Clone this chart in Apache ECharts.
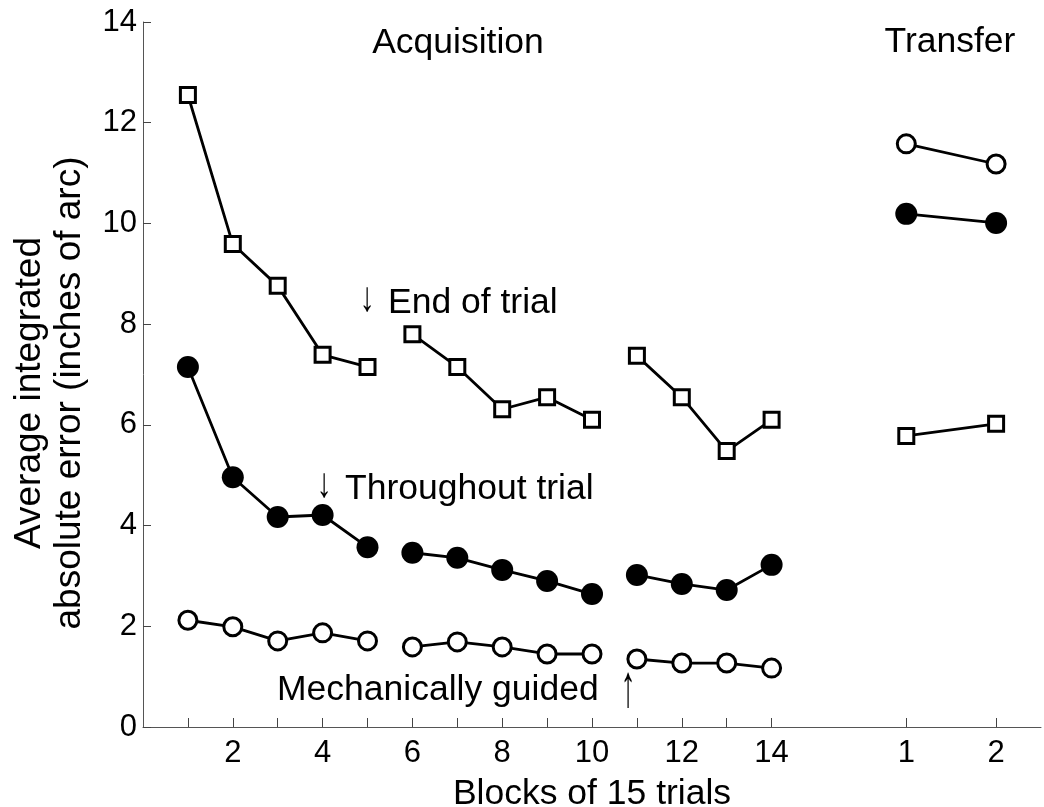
<!DOCTYPE html>
<html>
<head>
<meta charset="utf-8">
<script src="https://cdn.jsdelivr.net/npm/echarts@6/dist/echarts.min.js"></script>
<style>
  html, body { margin: 0; padding: 0; background: #fff; }
  #chart { width: 1044px; height: 807px; }
</style>
</head>
<body>
<div id="chart"></div>
<script>
// Blocks of 15 trials: 14 acquisition blocks in three sessions, then 2 transfer blocks
const acquisitionBlocks = [1, 2, 3, 4, 5, 6, 7, 8, 9, 10, 11, 12, 13, 14];
const sessionLastBlocks = [5, 10];
const transferBlocks = [1, 2];
const acquisitionLabelBlocks = [2, 4, 6, 8, 10, 12, 14];
const yTicks = [0, 2, 4, 6, 8, 10, 12, 14];

// Average integrated absolute error (inches of arc)
const endOfTrial = [12.55, 9.59, 8.76, 7.39, 7.15, 7.80, 7.15, 6.31, 6.55, 6.10, 7.37, 6.55, 5.48, 6.10];
const endOfTrialTransfer = [5.78, 6.02];
const throughoutTrial = [7.15, 4.96, 4.17, 4.21, 3.57, 3.46, 3.36, 3.12, 2.90, 2.64, 3.02, 2.84, 2.72, 3.22];
const throughoutTrialTransfer = [10.19, 10.01];
const mechanicallyGuided = [2.12, 1.99, 1.71, 1.87, 1.71, 1.59, 1.69, 1.59, 1.45, 1.45, 1.35, 1.27, 1.27, 1.17];
const mechanicallyGuidedTransfer = [11.58, 11.18];

// Transfer blocks sit to the right of the acquisition blocks on the same axis
const TRANSFER_START = 17;
const TRANSFER_STEP = 2;
const transferPos = b => TRANSFER_START + (b - 1) * TRANSFER_STEP;

// Build [x, y] pairs with breaks between sessions and before transfer
function buildData(acq, transfer) {
  const out = [];
  acquisitionBlocks.forEach((b, i) => {
    out.push([b, acq[i]]);
    if (sessionLastBlocks.includes(b)) out.push([b + 0.5, null]);
  });
  out.push([acquisitionBlocks[acquisitionBlocks.length - 1] + 1, null]);
  transferBlocks.forEach((b, i) => out.push([transferPos(b), transfer[i]]));
  return out;
}

const FONT = '"Liberation Sans", Arial, sans-serif';
const lineStyle = { color: '#000', width: 2.8 };

// Plain text label
const label = (text, x, y, align) => ({
  type: 'text', x, y,
  style: { text, font: '35.5px ' + FONT, fill: '#000', align: align || 'left', verticalAlign: 'middle' }
});
// Tall, thin pointer arrow next to a curve label
const arrow = (ch, x, y, stretch) => ({
  type: 'text', x, y, scaleX: 1, scaleY: stretch,
  style: { text: ch, font: '30px ' + FONT, fill: '#000', align: 'center', verticalAlign: 'middle' }
});

const chart = echarts.init(document.getElementById('chart'), null, { renderer: 'canvas' });

chart.setOption({
  animation: false,
  backgroundColor: '#fff',
  grid: { left: 143, right: 3, top: 22, bottom: 80, containLabel: false, outerBoundsMode: 'none' },
  xAxis: {
    type: 'value',
    min: 0,
    max: 20,
    interval: 1,
    name: 'Blocks of 15 trials',
    nameLocation: 'middle',
    nameGap: 49,
    nameTextStyle: { fontFamily: FONT, fontSize: 35.5, color: '#000' },
    axisLine: { show: true, lineStyle: { color: '#555', width: 1 } },
    axisTick: {
      show: true, inside: true, length: 9,
      lineStyle: { color: '#444', width: 1 },
      customValues: acquisitionBlocks.concat(transferBlocks.map(transferPos))
    },
    axisLabel: {
      fontFamily: FONT, fontSize: 31, color: '#000', margin: 11,
      customValues: acquisitionLabelBlocks.concat(transferBlocks.map(transferPos)),
      formatter: v => {
        const t = transferBlocks.find(b => transferPos(b) === v);
        return t !== undefined ? String(t) : String(v);
      }
    },
    splitLine: { show: false }
  },
  yAxis: {
    type: 'value',
    min: yTicks[0],
    max: yTicks[yTicks.length - 1],
    interval: yTicks[1] - yTicks[0],
    axisLine: { show: true, lineStyle: { color: '#555', width: 1 } },
    axisTick: { show: true, inside: true, length: 8, lineStyle: { color: '#444', width: 1 } },
    axisLabel: { fontFamily: FONT, fontSize: 31, color: '#000', margin: 6 },
    splitLine: { show: false }
  },
  graphic: [
    {
      type: 'text', x: 50, y: 393, rotation: Math.PI / 2,
      style: {
        text: 'Average integrated\nabsolute error (inches of arc)',
        font: '37px ' + FONT, fill: '#000',
        align: 'center', verticalAlign: 'middle', lineHeight: 40
      }
    },
    label('Acquisition', 458, 43, 'center'),
    label('Transfer', 950, 42, 'center'),
    arrow('\u2193', 367, 299, 1.4),
    label('End of trial', 388, 303),
    arrow('\u2193', 324, 485, 1.4),
    label('Throughout trial', 345, 489),
    label('Mechanically guided', 277, 690),
    arrow('\u2191', 628, 689, 2.0)
  ],
  series: [
    {
      name: 'Mechanically guided',
      type: 'line',
      data: buildData(mechanicallyGuided, mechanicallyGuidedTransfer),
      connectNulls: false,
      showAllSymbol: true,
      symbol: 'circle',
      symbolSize: 18,
      itemStyle: { color: '#fff', borderColor: '#000', borderWidth: 3 },
      lineStyle: lineStyle,
      z: 2
    },
    {
      name: 'Throughout trial',
      type: 'line',
      data: buildData(throughoutTrial, throughoutTrialTransfer),
      connectNulls: false,
      showAllSymbol: true,
      symbol: 'circle',
      symbolSize: 22,
      itemStyle: { color: '#000', borderColor: '#000', borderWidth: 0 },
      lineStyle: lineStyle,
      z: 3
    },
    {
      name: 'End of trial',
      type: 'line',
      data: buildData(endOfTrial, endOfTrialTransfer),
      connectNulls: false,
      showAllSymbol: true,
      symbol: 'rect',
      symbolSize: 15,
      itemStyle: { color: '#fff', borderColor: '#000', borderWidth: 3 },
      lineStyle: lineStyle,
      z: 4
    }
  ]
});
</script>
</body>
</html>
